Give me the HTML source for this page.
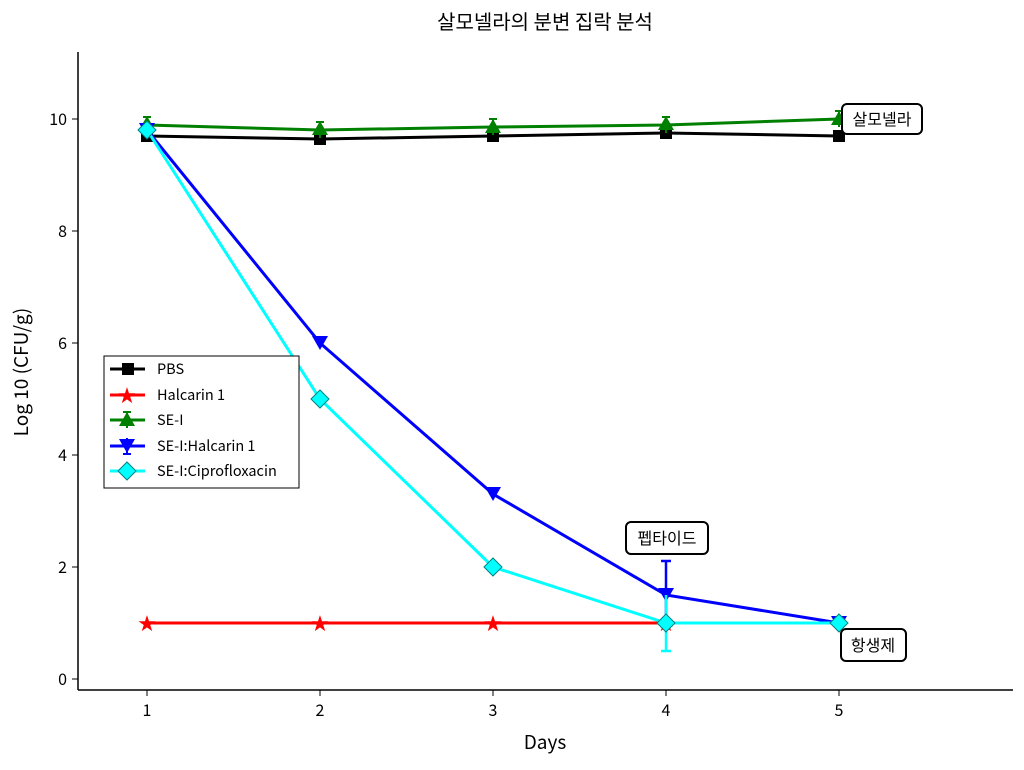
<!DOCTYPE html>
<html><head><meta charset="utf-8"><style>body{margin:0;background:#fff}</style></head><body>
<svg width="1024" height="765" xmlns="http://www.w3.org/2000/svg" font-family="Noto Sans CJK KR, sans-serif">
<rect width="1024" height="765" fill="#fff"/>
<text x="545" y="29" font-size="20" text-anchor="middle">살모넬라의 분변 집락 분석</text>
<line x1="78" y1="52" x2="78" y2="690" stroke="#000" stroke-width="1.5"/>
<line x1="78" y1="690" x2="1013" y2="690" stroke="#000" stroke-width="1.5"/>
<g stroke="#000">
<line x1="72" y1="679" x2="78" y2="679"/><line x1="72" y1="567" x2="78" y2="567"/><line x1="72" y1="455" x2="78" y2="455"/><line x1="72" y1="343" x2="78" y2="343"/><line x1="72" y1="231" x2="78" y2="231"/><line x1="72" y1="119" x2="78" y2="119"/>
</g>
<g font-size="16" text-anchor="end">
<text x="67" y="685">0</text><text x="67" y="573">2</text><text x="67" y="461">4</text><text x="67" y="349">6</text><text x="67" y="237">8</text><text x="67" y="125">10</text>
</g>
<g stroke="#000"><line x1="147" y1="690" x2="147" y2="696"/><line x1="320" y1="690" x2="320" y2="696"/><line x1="493" y1="690" x2="493" y2="696"/><line x1="666" y1="690" x2="666" y2="696"/><line x1="839" y1="690" x2="839" y2="696"/></g>
<g font-size="16" text-anchor="middle"><text x="147" y="716">1</text><text x="320" y="716">2</text><text x="493" y="716">3</text><text x="666" y="716">4</text><text x="839" y="716">5</text></g>
<text x="545" y="749" font-size="19" text-anchor="middle">Days</text>
<text transform="translate(28,372) rotate(-90)" font-size="19" text-anchor="middle">Log 10 (CFU/g)</text>
<polyline points="147,623 320,623 493,623 666,623 839,623" fill="none" stroke="#f00" stroke-width="3"/>
<g fill="#f00" font-size="22" text-anchor="middle" font-family="DejaVu Sans, sans-serif">
<text x="147" y="631">★</text><text x="320" y="631">★</text><text x="493" y="631">★</text><text x="666" y="631">★</text>
</g>
<polyline points="147,136 320,139 493,136 666,133 839,136" fill="none" stroke="#000" stroke-width="3"/>
<g fill="#000"><rect x="141" y="130" width="12" height="12"/><rect x="314" y="133" width="12" height="12"/><rect x="487" y="130" width="12" height="12"/><rect x="660" y="127" width="12" height="12"/><rect x="833" y="130" width="12" height="12"/></g>
<polyline points="147,125 320,130 493,127 666,125 839,119" fill="none" stroke="#008000" stroke-width="3"/>
<g stroke="#008000" stroke-width="2"><path d="M147 117V133M143 117H151M320 122V138M316 122H324M493 119V135M489 119H497M666 117V133M662 117H670M839 111V127M835 111H843"/></g>
<g fill="#008000"><path d="M147 116l8 14h-16z"/><path d="M320 121l8 14h-16z"/><path d="M493 119l8 14h-16z"/><path d="M666 116l8 14h-16z"/><path d="M839 111l8 14h-16z"/></g>
<polyline points="147,130 320,343 493,494 666,595 839,623" fill="none" stroke="#00f" stroke-width="3"/>
<path d="M666 561V629M661 561H671" stroke="#00f" stroke-width="2.5"/>
<g fill="#00f"><path d="M139 123h16l-8 14z"/><path d="M312 336h16l-8 14z"/><path d="M485 487h16l-8 14z"/><path d="M658 588h16l-8 14z"/><path d="M831 616h16l-8 14z"/></g>
<polyline points="147,130 320,399 493,567 666,623 839,623" fill="none" stroke="#0ff" stroke-width="3"/>
<path d="M666 595V651M661 651H671" stroke="#0ff" stroke-width="2.5"/>
<g fill="#0ff" stroke="#008080" stroke-width="1"><path d="M147 121l9 9-9 9-9-9z"/><path d="M320 390l9 9-9 9-9-9z"/><path d="M493 558l9 9-9 9-9-9z"/><path d="M666 614l9 9-9 9-9-9z"/><path d="M839 614l9 9-9 9-9-9z"/></g>
<g font-size="16" text-anchor="middle">
<rect x="842" y="104" width="80" height="30" rx="5" fill="#fff" stroke="#000" stroke-width="2"/><text x="882" y="125">살모넬라</text>
<rect x="626" y="522" width="82" height="32" rx="5" fill="#fff" stroke="#000" stroke-width="2"/><text x="667" y="544">펩타이드</text>
<rect x="841" y="629" width="65" height="32" rx="5" fill="#fff" stroke="#000" stroke-width="2"/><text x="873" y="651">항생제</text>
</g>
<rect x="104" y="356" width="195" height="132" fill="#fff" stroke="#000" stroke-width="1"/>
<g font-size="14.5">
<line x1="110" y1="369" x2="145" y2="369" stroke="#000" stroke-width="3"/><rect x="122" y="363" width="12" height="12"/><text x="157" y="374">PBS</text>
<line x1="110" y1="395" x2="145" y2="395" stroke="#f00" stroke-width="3"/><text x="127" y="403" font-size="22" text-anchor="middle" fill="#f00" font-family="DejaVu Sans, sans-serif">★</text><text x="157" y="400">Halcarin 1</text>
<line x1="110" y1="420" x2="145" y2="420" stroke="#008000" stroke-width="3"/><path d="M127 412V428M123 412H131" stroke="#008000" stroke-width="2"/><path d="M127 412l8 14h-16z" fill="#008000"/><text x="157" y="425">SE-I</text>
<line x1="110" y1="446" x2="145" y2="446" stroke="#00f" stroke-width="3"/><path d="M127 438V454M123 454H131" stroke="#00f" stroke-width="2"/><path d="M119 439h16l-8 14z" fill="#00f"/><text x="157" y="451">SE-I:Halcarin 1</text>
<line x1="110" y1="471" x2="145" y2="471" stroke="#0ff" stroke-width="3"/><path d="M127 462l9 9-9 9-9-9z" fill="#0ff" stroke="#008080"/><text x="157" y="476">SE-I:Ciprofloxacin</text>
</g>
</svg>
</body></html>
